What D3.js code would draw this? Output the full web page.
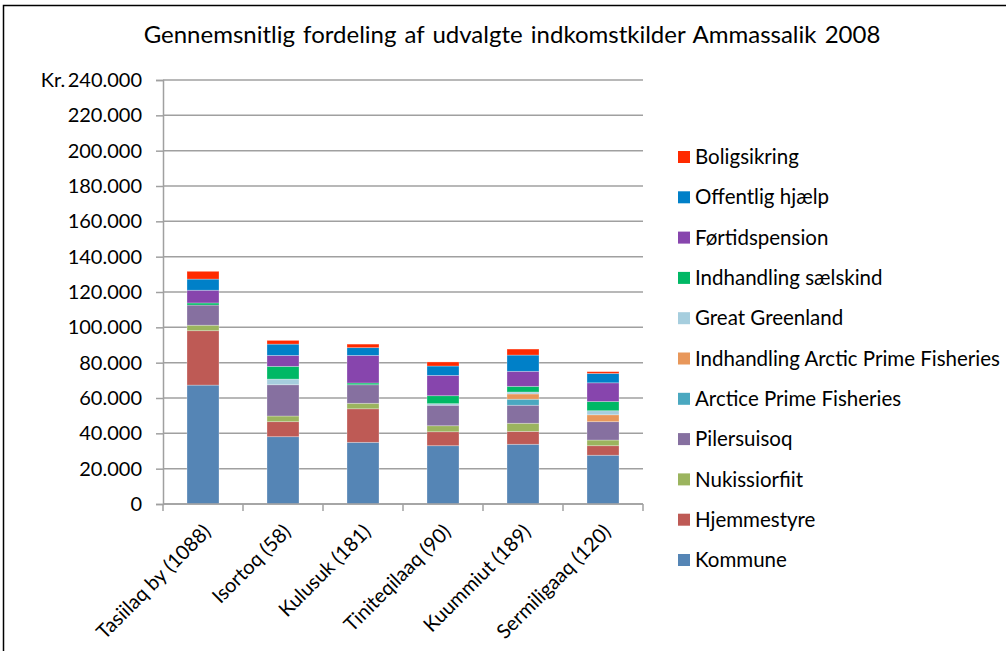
<!DOCTYPE html>
<html lang="da">
<head>
    <meta charset="utf-8">
    <title>Gennemsnitlig fordeling af udvalgte indkomstkilder Ammassalik 2008</title>
    <script src="https://d3js.org/d3.v7.min.js"></script>
    <style type="text/css">
    body { margin: 0; background: #fff; }
    svg text {
        font-family: Lato, "Open Sans", sans-serif;
        fill: #000;
    }
    .grid line { stroke: #a0a0a0; stroke-width: 1.5px; }
    .axis path, .axis line { stroke: #a0a0a0; stroke-width: 1.5px; }
    </style>
</head>
<body>
<script>
// bygder (x-akse)
var categories = ["Tasiilaq by (1088)", "Isortoq (58)", "Kulusuk (181)", "Tiniteqilaaq (90)", "Kuummiut (189)", "Sermiligaaq (120)"];

// serier, nederst i stakken først
var seriesNames = ["Kommune", "Hjemmestyre", "Nukissiorfiit", "Pilersuisoq", "Arctice Prime Fisheries",
    "Indhandling Arctic Prime Fisheries", "Great Greenland", "Indhandling sælskind", "Førtidspension",
    "Offentlig hjælp", "Boligsikring"];

var kommune       = [67300, 38100, 34900, 33000, 33800, 27600];
var hjemmestyre   = [30800,  8500, 19000,  7900,  7300,  5400];
var nukissiorfiit = [ 3100,  3200,  3100,  3400,  4600,  3200];
var pilersuisoq   = [11400, 17700, 10500, 11600, 10200, 10400];
var arcticePrime  = [    0,     0,     0,     0,  3400,     0];
var indhAPF       = [    0,     0,     0,     0,  3000,  3900];
var greatGreenland= [    0,  3200,     0,   900,  1100,  2300];
var saelskind     = [ 1200,  7200,  1000,  4500,  3200,  5200];
var foertid       = [ 7200,  6200, 15600, 11500,  8500, 10600];
var offentlig     = [ 6300,  6400,  4400,  5300,  9200,  5300];
var boligsikring  = [ 4400,  2100,  2000,  2300,  3400,  1000];

var yTicks = [0, 20000, 40000, 60000, 80000, 100000, 120000, 140000, 160000, 180000, 200000, 220000, 240000];

var colors = ["#5585b5", "#be5a55", "#9bb45e", "#8670a0", "#4aa8c0", "#e8975a",
    "#a6cede", "#00b865", "#8745ad", "#0080c8", "#ff2a00"];

var seriesValues = [kommune, hjemmestyre, nukissiorfiit, pilersuisoq, arcticePrime, indhAPF,
    greatGreenland, saelskind, foertid, offentlig, boligsikring];

// tabel til d3.stack
var table = categories.map(function (c, i) {
    var row = { cat: c };
    seriesNames.forEach(function (s, j) { row[s] = seriesValues[j][i]; });
    return row;
});
var stacked = d3.stack().keys(seriesNames)(table);

var width = 1006, height = 651;
// plotområde (obs: "top" er optaget af window.top)
var plotL = 163, plotR = 643, plotT = 80, plotB = 504;

var svg = d3.select("body").append("svg")
    .attr("width", width)
    .attr("height", height);

// ramme
svg.append("rect")
    .attr("x", 3.5).attr("y", 5.5)
    .attr("width", 1010).attr("height", 700)
    .attr("fill", "none")
    .attr("stroke", "#000")
    .attr("stroke-width", 1.5);

svg.append("text")
    .attr("x", 512).attr("y", 43)
    .attr("text-anchor", "middle")
    .style("font-size", "24px")
    .style("word-spacing", "2px")
    .text("Gennemsnitlig fordeling af udvalgte indkomstkilder Ammassalik 2008");

var x = d3.scaleBand().domain(categories).range([plotL, plotR])
    .paddingInner(0.6).paddingOuter(0.3);
var y = d3.scaleLinear().domain([0, 240000]).range([plotB, plotT]);

// gitterlinjer
svg.append("g").attr("class", "grid")
    .selectAll("line")
    .data(yTicks)
    .enter().append("line")
    .attr("x1", plotL).attr("x2", plotR)
    .attr("y1", function (d) { return y(d); })
    .attr("y2", function (d) { return y(d); });

var fmt = function (d) {
    var s = d3.format(",")(d).replace(/,/g, ".");
    return d === 240000 ? "Kr.\u2009" + s : s;
};

var yAxis = svg.append("g").attr("class", "axis")
    .attr("transform", "translate(" + plotL + ",0)")
    .call(d3.axisLeft(y).tickValues(yTicks).tickSize(7).tickPadding(14).tickFormat(fmt));
yAxis.selectAll("text").style("font-size", "20px").attr("fill", "#000");

// staplede søjler
svg.append("g").selectAll("g")
    .data(stacked)
    .enter().append("g")
    .attr("fill", function (d, i) { return colors[i]; })
    .selectAll("rect")
    .data(function (d) { return d.filter(function (p) { return p[1] - p[0] > 0; }); })
    .enter().append("rect")
    .attr("x", function (d) { return x(d.data.cat); })
    .attr("width", x.bandwidth())
    .attr("y", function (d) { return y(d[1]); })
    .attr("height", function (d) { return y(d[0]) - y(d[1]); })
    .attr("stroke", "rgba(255,255,255,0.35)")
    .attr("stroke-width", 0.8);

// x-akse med skrå etiketter
var xAxis = svg.append("g").attr("class", "axis")
    .attr("transform", "translate(0," + plotB + ")");
xAxis.append("line")
    .attr("x1", plotL).attr("x2", plotR);
xAxis.selectAll(".tk")
    .data(d3.range(categories.length + 1))
    .enter().append("line")
    .attr("x1", function (i) { return plotL + i * x.step(); })
    .attr("x2", function (i) { return plotL + i * x.step(); })
    .attr("y1", 0).attr("y2", 7);

svg.append("g").selectAll("text")
    .data(categories)
    .enter().append("text")
    .attr("transform", function (d) {
        return "translate(" + (x(d) + x.bandwidth() / 2 + 9) + "," + (plotB + 29) + ") rotate(-45)";
    })
    .attr("text-anchor", "end")
    .style("font-size", "20px")
    .text(function (d) { return d; });

// legende, øverste serie først
var legend = svg.append("g").selectAll("g")
    .data(seriesNames.slice().reverse())
    .enter().append("g")
    .attr("transform", function (d, i) { return "translate(678," + (157 + i * 40.3) + ")"; });
legend.append("rect")
    .attr("x", 0).attr("y", -6)
    .attr("width", 12).attr("height", 12)
    .attr("fill", function (d) { return colors[seriesNames.indexOf(d)]; });
legend.append("text")
    .attr("x", 17).attr("y", 0)
    .attr("dy", "0.35em")
    .style("font-size", "20.5px")
    .text(function (d) { return d; });
</script>
</body>
</html>
